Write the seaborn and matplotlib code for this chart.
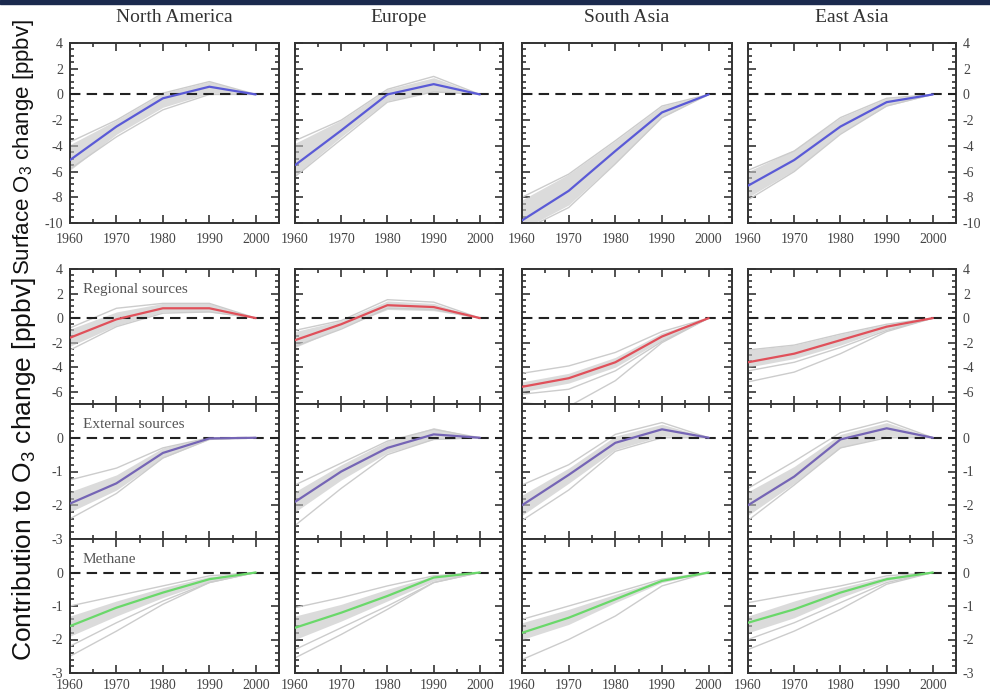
import matplotlib
matplotlib.use("Agg")
import matplotlib.pyplot as plt
import numpy as np
import pandas as pd
import seaborn as sns
from matplotlib.ticker import MultipleLocator, FixedLocator
from matplotlib.patches import Rectangle

# ---------------- data ----------------
YEARS = [1960, 1970, 1980, 1990, 2000]
REGIONS = ["North America", "Europe", "South Asia", "East Asia"]

# Row 1: surface O3 change (total)
TOTAL_MEAN = {"North America": [-5.1, -2.5, -0.3, 0.6, 0.0],
              "Europe":        [-5.5, -2.8, 0.0, 0.8, 0.0],
              "South Asia":    [-9.8, -7.5, -4.4, -1.4, 0.0],
              "East Asia":     [-7.1, -5.1, -2.5, -0.6, 0.0]}
TOTAL_HI = {"North America": [-3.9, -2.0, 0.1, 1.0, 0.0],
            "Europe":        [-3.8, -2.0, 0.4, 1.3, 0.0],
            "South Asia":    [-8.2, -6.2, -3.6, -0.9, 0.0],
            "East Asia":     [-6.0, -4.3, -1.8, -0.3, 0.0]}
TOTAL_LO = {"North America": [-5.9, -3.1, -1.0, 0.1, 0.0],
            "Europe":        [-6.3, -3.3, -0.5, 0.2, 0.0],
            "South Asia":    [-10.5, -8.6, -5.3, -1.8, 0.0],
            "East Asia":     [-8.0, -5.9, -3.0, -0.9, 0.0]}
TOTAL_EXTRA = {"North America": [[-3.7, -2.0, 0.1, 1.0, 0.0], [-5.8, -3.3, -1.2, 0.0, 0.0]],
               "Europe":        [[-3.6, -2.0, 0.4, 1.4, 0.0], [-6.4, -3.5, -0.6, 0.2, 0.0]],
               "South Asia":    [[-8.0, -6.2, -3.6, -0.9, 0.0], [-10.6, -8.8, -5.4, -1.8, 0.0]],
               "East Asia":     [[-5.9, -4.4, -1.8, -0.3, 0.0], [-8.2, -6.0, -3.1, -0.9, 0.0]]}

# Row 2: regional sources
REG_MEAN = {"North America": [-1.6, -0.1, 0.8, 0.8, 0.0],
            "Europe":        [-1.8, -0.5, 1.05, 0.9, 0.0],
            "South Asia":    [-5.6, -4.9, -3.6, -1.5, 0.0],
            "East Asia":     [-3.6, -2.9, -1.8, -0.7, 0.0]}
REG_HI = {"North America": [-0.9, 0.5, 1.2, 1.2, 0.0],
          "Europe":        [-1.1, -0.2, 1.4, 1.2, 0.0],
          "South Asia":    [-5.2, -4.5, -3.2, -1.2, 0.0],
          "East Asia":     [-2.6, -2.2, -1.3, -0.5, 0.0]}
REG_LO = {"North America": [-2.3, -0.6, 0.5, 0.5, 0.0],
          "Europe":        [-2.4, -0.8, 0.7, 0.6, 0.0],
          "South Asia":    [-6.0, -5.3, -4.0, -1.8, 0.0],
          "East Asia":     [-4.0, -3.3, -2.2, -0.9, 0.0]}
REG_EXTRA = {"North America": [[-0.8, 0.8, 1.2, 1.2, 0.0], [-2.6, -0.7, 0.4, 0.5, 0.0]],
             "Europe":        [[-1.0, -0.2, 1.5, 1.3, 0.0], [-2.3, -0.9, 0.8, 0.7, 0.0]],
             "South Asia":    [[-4.5, -3.9, -2.8, -1.1, 0.0], [-6.2, -5.8, -4.3, -1.9, 0.0],
                               [-6.9, -7.2, -5.1, -2.0, 0.0]],
             "East Asia":     [[-2.6, -2.2, -1.3, -0.5, 0.0], [-4.3, -3.6, -2.4, -1.0, 0.0],
                               [-5.2, -4.4, -2.9, -1.1, 0.0]]}

# Row 3: external sources
EXT_MEAN = {"North America": [-1.95, -1.35, -0.45, -0.02, 0.0],
            "Europe":        [-1.9, -1.0, -0.3, 0.1, 0.0],
            "South Asia":    [-2.0, -1.1, -0.15, 0.25, 0.0],
            "East Asia":     [-2.0, -1.15, -0.05, 0.28, 0.0]}
EXT_HI = {"North America": [-1.6, -1.1, -0.3, 0.02, 0.0],
          "Europe":        [-1.6, -0.8, -0.1, 0.3, 0.0],
          "South Asia":    [-1.7, -0.9, 0.05, 0.4, 0.0],
          "East Asia":     [-1.6, -0.85, 0.1, 0.45, 0.0]}
EXT_LO = {"North America": [-2.2, -1.55, -0.6, -0.05, 0.0],
          "Europe":        [-2.2, -1.25, -0.45, -0.05, 0.0],
          "South Asia":    [-2.3, -1.35, -0.35, 0.05, 0.0],
          "East Asia":     [-2.3, -1.35, -0.3, 0.05, 0.0]}
EXT_EXTRA = {"North America": [[-1.25, -0.9, -0.3, 0.0, 0.0], [-2.4, -1.65, -0.6, -0.05, 0.0]],
             "Europe":        [[-1.4, -0.75, -0.1, 0.25, 0.0], [-2.6, -1.5, -0.5, -0.05, 0.0]],
             "South Asia":    [[-1.4, -0.8, 0.1, 0.45, 0.0], [-2.45, -1.55, -0.4, 0.0, 0.0]],
             "East Asia":     [[-1.5, -0.7, 0.15, 0.5, 0.0], [-2.45, -1.4, -0.3, 0.0, 0.0]]}

# Row 4: methane
CH4_MEAN = {"North America": [-1.6, -1.05, -0.6, -0.2, 0.0],
            "Europe":        [-1.65, -1.2, -0.7, -0.15, 0.0],
            "South Asia":    [-1.8, -1.35, -0.8, -0.25, 0.0],
            "East Asia":     [-1.5, -1.1, -0.6, -0.2, 0.0]}
CH4_HI = {"North America": [-1.3, -0.85, -0.45, -0.12, 0.0],
          "Europe":        [-1.3, -0.95, -0.5, -0.1, 0.0],
          "South Asia":    [-1.5, -1.1, -0.65, -0.2, 0.0],
          "East Asia":     [-1.3, -0.85, -0.45, -0.12, 0.0]}
CH4_LO = {"North America": [-1.9, -1.3, -0.75, -0.28, 0.0],
          "Europe":        [-2.0, -1.45, -0.85, -0.25, 0.0],
          "South Asia":    [-2.0, -1.55, -0.9, -0.3, 0.0],
          "East Asia":     [-1.8, -1.35, -0.75, -0.25, 0.0]}
CH4_EXTRA = {"North America": [[-1.0, -0.7, -0.4, -0.1, 0.0], [-2.2, -1.5, -0.85, -0.3, 0.0],
                               [-2.5, -1.75, -0.95, -0.3, 0.0]],
             "Europe":        [[-1.05, -0.75, -0.4, -0.1, 0.0], [-2.3, -1.65, -1.0, -0.3, 0.0],
                               [-2.55, -1.85, -1.1, -0.3, 0.0]],
             "South Asia":    [[-1.4, -1.0, -0.6, -0.2, 0.0], [-2.6, -2.0, -1.3, -0.4, 0.0]],
             "East Asia":     [[-0.9, -0.65, -0.4, -0.1, 0.0], [-2.0, -1.5, -0.9, -0.3, 0.0],
                               [-2.3, -1.75, -1.1, -0.35, 0.0]]}

ROW_LABELS = ["", "Regional sources", "External sources", "Methane"]

# ---------------- style ----------------
sns.set_theme(style="white")
plt.rcParams['font.family'] = ['Liberation Serif', 'DejaVu Serif']
plt.rcParams['axes.unicode_minus'] = False
plt.rcParams['mathtext.fontset'] = 'custom'
plt.rcParams['mathtext.rm'] = 'Liberation Sans'

ROWS = [
    dict(mean=TOTAL_MEAN, lo=TOTAL_LO, hi=TOTAL_HI, extra=TOTAL_EXTRA, color="#5a5ad6",
         ylim=(-10, 4), minor=0.5, ticks=list(range(-10, 5, 2)), xlabels=True, xpad=7),
    dict(mean=REG_MEAN, lo=REG_LO, hi=REG_HI, extra=REG_EXTRA, color="#e0505a",
         ylim=(-7, 4), minor=0.5, ticks=list(range(-6, 5, 2)), xlabels=False, xpad=4),
    dict(mean=EXT_MEAN, lo=EXT_LO, hi=EXT_HI, extra=EXT_EXTRA, color="#7565b5",
         ylim=(-3, 1), minor=0.2, ticks=[-3, -2, -1, 0], xlabels=False, xpad=4),
    dict(mean=CH4_MEAN, lo=CH4_LO, hi=CH4_HI, extra=CH4_EXTRA, color="#6ad86a",
         ylim=(-3, 1), minor=0.2, ticks=[-3, -2, -1, 0], xlabels=True, xpad=4.5),
]

W, H = 990, 693
COLS_PX = [(70, 279), (295, 503), (522, 732), (748, 956)]
ROWS_PX = [(43, 223), (269, 404), (404, 539), (539, 673)]

fig = plt.figure(figsize=(W / 100, H / 100), dpi=100)
fig.patch.set_facecolor("white")
fig.patches.append(Rectangle((0, 1 - 4 / H), 1, 4 / H, transform=fig.transFigure,
                             color="#1b2a4e", zorder=10))

for r, spec in enumerate(ROWS):
    top, bot = ROWS_PX[r]
    for c, region in enumerate(REGIONS):
        l, rr = COLS_PX[c]
        ax = fig.add_axes([l / W, 1 - bot / H, (rr - l) / W, (bot - top) / H])
        ax.set_facecolor("white")

        ax.fill_between(YEARS, spec["lo"][region], spec["hi"][region],
                        color="#c4c4c4", alpha=0.6, lw=0, zorder=1)
        rows = []
        for k, series in enumerate(spec["extra"][region]):
            for y, v in zip(YEARS, series):
                rows.append(dict(year=y, value=v, member=k))
        ext_df = pd.DataFrame(rows)
        sns.lineplot(data=ext_df, x="year", y="value", units="member", estimator=None,
                     color="#cccccc", lw=1.0, ax=ax, zorder=2)
        ax.axhline(0, color="#222222", ls=(0, (5, 3)), lw=1.5, zorder=3)
        mean_df = pd.DataFrame({"year": YEARS, "value": spec["mean"][region]})
        sns.lineplot(data=mean_df, x="year", y="value", color=spec["color"], lw=1.6,
                     ax=ax, zorder=4)

        ax.set_xlim(1960, 2005)
        ax.set_ylim(*spec["ylim"])
        ax.set_xlabel("")
        ax.set_ylabel("")
        ax.xaxis.set_major_locator(MultipleLocator(10))
        ax.xaxis.set_minor_locator(MultipleLocator(5))
        ax.yaxis.set_major_locator(FixedLocator(spec["ticks"]))
        ax.yaxis.set_minor_locator(MultipleLocator(spec["minor"]))
        ax.tick_params(which="both", direction="in", top=True, bottom=True,
                       left=True, right=True, color="#333333", width=1.2)
        ax.tick_params(which="major", length=6)
        ax.tick_params(which="minor", length=3)
        ax.tick_params(axis="both", labelsize=10, labelcolor="#444444")
        ax.tick_params(axis="x", pad=spec["xpad"], labelbottom=spec["xlabels"])
        ax.tick_params(axis="y", pad=5, labelleft=(c == 0), labelright=(c == 3))
        for s in ax.spines.values():
            s.set_color("#333333")
            s.set_linewidth(1.4)
            s.set_visible(True)

        if r == 0:
            fig.text(((l + rr) / 2) / W, 1 - 18 / H, region, ha="center", va="center",
                     fontsize=14, color="#333333")
        if c == 0 and ROW_LABELS[r]:
            ax.text(0.062, 0.85, ROW_LABELS[r], transform=ax.transAxes, ha="left",
                    va="center", fontsize=11, color="#555555")

fig.text(24 / W, 1 - 147 / H, r"Surface O$_\mathregular{3}$ change [ppbv]", rotation=90,
         ha="center", va="center", fontsize=16, family="Liberation Sans", color="#111111")
fig.text(24 / W, 1 - 469 / H, r"Contribution to O$_\mathregular{3}$ change [ppbv]",
         rotation=90, ha="center", va="center", fontsize=19, family="Liberation Sans",
         color="#111111")

fig.savefig("out.png", dpi=100)
